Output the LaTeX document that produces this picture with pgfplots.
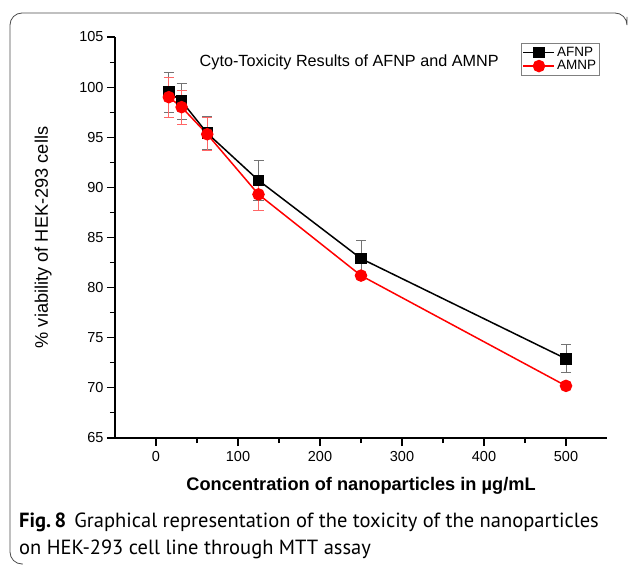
\documentclass[border=0pt]{standalone}
\usepackage{pgfplots}
\pgfplotsset{compat=1.18}
\usepackage{fontspec}
\setmainfont{Liberation Sans}
\newfontfamily\capfont{PT Sans}
\newcommand\xlblfont{\fontsize{18.2bp}{20bp}\selectfont}
\newcommand\ylblfont{\fontsize{18.2bp}{20bp}\selectfont}
\newcommand\legfont{\fontsize{13.5bp}{14bp}\selectfont}
\begin{document}
\begin{tikzpicture}
\useasboundingbox (-115bp,-127bp) rectangle (514bp,438bp);
\draw[black!70, line width=0.8bp, rounded corners=12bp] (-92bp,-126bp) -- (-105bp,-126bp) -- (-105bp,425bp) -- (512bp,425bp) -- (512bp,421bp);
\begin{axis}[
  at={(0,0)}, anchor=south west,
  scale only axis, width=492bp, height=401bp,
  xmin=-50, xmax=550, ymin=65, ymax=105,
  xtick={0,100,...,500}, ytick={65,70,...,105},
  minor x tick num=1, minor y tick num=1,
  axis line style={line width=1.3bp},
  axis x line*=bottom, axis y line*=left,
  tick align=outside,
  major tick length=8bp, minor tick length=5bp,
  every tick/.style={black, line width=1.1bp},
  tick label style={font=\fontsize{14.5bp}{16bp}\selectfont},
  xticklabel style={yshift=-2bp},
  xlabel={\xlblfont\bfseries Concentration of nanoparticles in µg/mL},
  ylabel={\ylblfont\% viability of HEK-293 cells},
  xlabel style={at={(axis description cs:0.5,-0.1197)}, anchor=center},
  ylabel style={at={(axis description cs:-0.146,0.5)}, anchor=center},
  legend style={at={(0.986,0.985)}, anchor=north east, draw=black!50, line width=0.8bp, inner sep=1.5bp, row sep=-1bp, cells={anchor=west}},
  legend image code/.code={\draw[#1] (0bp,0bp) -- (31bp,0bp); \draw[#1, mark repeat=1] plot coordinates {(15.5bp,0bp)};},
  clip=false,
  /pgf/number format/assume math mode=true,
]
\addplot[black, line width=1.5bp, mark=square*, mark size=5bp, mark options={solid},
  error bars/.cd, y dir=both, y explicit, error bar style={black!55, line width=1bp}, error mark options={rotate=90, mark size=5bp, black!55, line width=1bp}]
coordinates {
(15.625,99.5) +- (0,2.0)
(31.25,98.6) +- (0,1.8)
(62.5,95.4) +- (0,1.65)
(125,90.7) +- (0,2.0)
(250,82.9) +- (0,1.85)
(500,72.9) +- (0,1.4)
};
\addlegendentry{\legfont AFNP}
\addplot[red, line width=1.5bp, mark=*, mark size=5.5bp, mark options={solid},
  error bars/.cd, y dir=both, y explicit, error bar style={red!60, line width=1bp}, error mark options={rotate=90, mark size=5bp, red!60, line width=1bp}]
coordinates {
(15.625,99.0) +- (0,2.0)
(31.25,98.0) +- (0,1.7)
(62.5,95.3) +- (0,1.65)
(125,89.3) +- (0,1.6)
(250,81.2) +- (0,0.3)
(500,70.2) +- (0,0.3)
};
\addlegendentry{\legfont AMNP}
\node[font=\fontsize{16.2bp}{18bp}\selectfont] at (axis description cs:0.476,0.938) {Cyto-Toxicity Results of AFNP and AMNP};
\end{axis}
\node[anchor=base west, font=\capfont\fontsize{20.5bp}{22bp}\selectfont, inner sep=0pt] at (-96bp,-89bp) {\textbf{Fig.\,8}\hspace{0.4em}Graphical representation of the toxicity of the nanoparticles};
\node[anchor=base west, font=\capfont\fontsize{20.5bp}{22bp}\selectfont, inner sep=0pt] at (-96bp,-116bp) {on HEK-293 cell line through MTT assay};
\end{tikzpicture}
\end{document}
